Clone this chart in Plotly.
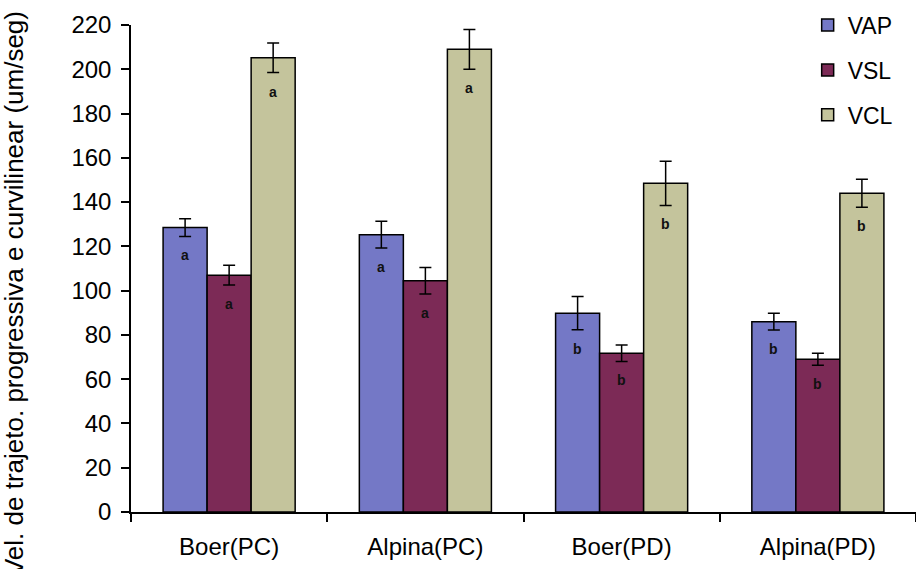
import plotly.graph_objects as go

categories = ["Boer(PC)", "Alpina(PC)", "Boer(PD)", "Alpina(PD)"]
series_names = ["VAP", "VSL", "VCL"]
vap = [128.5, 125.3, 89.8, 86.0]
vsl = [107.0, 104.5, 71.7, 69.0]
vcl = [205.2, 209.0, 148.5, 144.0]
vap_err = [4.0, 6.0, 7.5, 3.8]
vsl_err = [4.5, 6.0, 3.7, 2.7]
vcl_err = [6.7, 9.0, 10.0, 6.3]
vap_letters = ["a", "a", "b", "b"]
vsl_letters = ["a", "a", "b", "b"]
vcl_letters = ["a", "a", "b", "b"]
y_ticks = [0, 20, 40, 60, 80, 100, 120, 140, 160, 180, 200, 220]

colors = ["#7478c6", "#7c2a56", "#c4c49c"]
values = [vap, vsl, vcl]
errors = [vap_err, vsl_err, vcl_err]
letters = [vap_letters, vsl_letters, vcl_letters]

FONT = "Liberation Sans, Arial, sans-serif"
bargap = 0.327

fig = go.Figure()
for k, name in enumerate(series_names):
    fig.add_trace(go.Bar(
        name=name, x=categories, y=values[k],
        marker=dict(color=colors[k], line=dict(color="#000000", width=1.5)),
        error_y=dict(type="data", array=errors[k], visible=True,
                     color="#000000", thickness=1.5, width=6),
        legendgroup=name,
    ))

# letter annotations below the error bars
bw = (1 - bargap) / 3
for k in range(3):
    off = (k - 1) * bw
    for i in range(len(categories)):
        fig.add_annotation(
            x=i + off, y=values[k][i] - errors[k][i], xref="x", yref="y",
            text="<b>%s</b>" % letters[k][i], showarrow=False,
            yanchor="top", yshift=-9,
            font=dict(family=FONT, size=14, color="#111111"),
        )

fig.add_annotation(
    text="Vel. de trajeto. progressiva e curvilinear (um/seg)",
    xref="paper", yref="paper", x=-0.149, y=0.4476,
    xanchor="center", yanchor="middle", textangle=-90, showarrow=False,
    font=dict(family=FONT, size=26, color="#000000"),
)

fig.update_layout(
    width=916, height=569,
    margin=dict(l=131, r=0, t=25, b=57),
    paper_bgcolor="#ffffff", plot_bgcolor="#ffffff",
    barmode="group", bargap=bargap, bargroupgap=0,
    font=dict(family=FONT, size=24, color="#000000"),
    showlegend=True,
    legend=dict(x=0.862, y=1.044, xanchor="left", yanchor="top",
                font=dict(family=FONT, size=23, color="#000000"),
                tracegroupgap=12, bgcolor="rgba(0,0,0,0)"),
    xaxis=dict(showline=True, linecolor="#000000", linewidth=1.5,
               ticks="outside", ticklen=8, tickcolor="#000000", tickwidth=1.5,
               tickson="boundaries", showgrid=False, zeroline=False,
               ticklabelstandoff=12,
               tickfont=dict(family=FONT, size=24, color="#000000")),
    yaxis=dict(range=[0, 220], tickvals=y_ticks, showline=True,
               linecolor="#000000", linewidth=1.5, ticks="outside", ticklen=8,
               tickcolor="#000000", tickwidth=1.5, showgrid=False,
               zeroline=False, ticklabelstandoff=5,
               tickfont=dict(family=FONT, size=24, color="#000000")),
)

fig.write_html("out.html", config={"displayModeBar": False},
               post_script="document.body.style.margin='0';")
